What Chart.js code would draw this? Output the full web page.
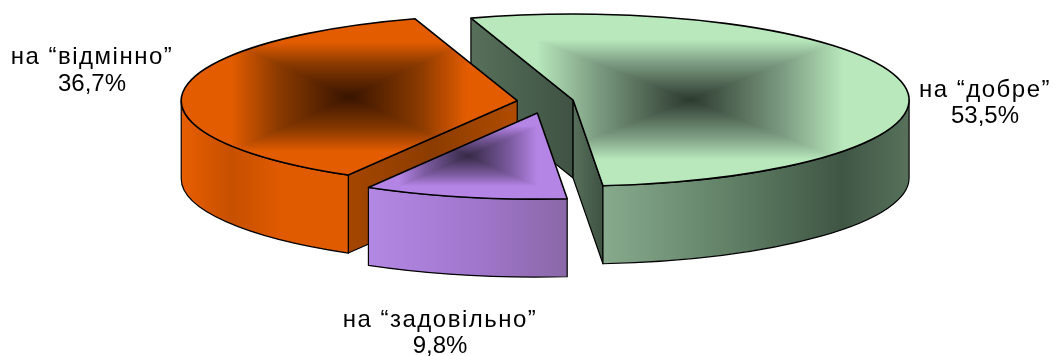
<!DOCTYPE html>
<html lang="en">
<head>
    <meta charset="UTF-8">
    <title>Pie</title>
    <script src="https://cdn.jsdelivr.net/npm/chart.js"></script>
    <style>
        html, body { margin: 0; padding: 0; background: #fff; overflow: hidden; }
        #box { position: relative; width: 1056px; height: 356px; }
    </style>
</head>
<body>
    <div id="box"><canvas id="pieChart"></canvas></div>

    <script>
        // data, clockwise from the back left edge
        const categories = ['на “добре”', 'на “задовільно”', 'на “відмінно”'];
        const values = [53.5, 9.8, 36.7];
        const valueLabels = ['53,5%', '9,8%', '36,7%'];

        // look of each slice
        const topColors = ['#b8e8bc', '#b585e6', '#e35c00'];
        const coreColors = ['#2c3a2e', '#352945', '#371400'];
        const midColors = ['#7b9a80', '#7a5a9e', '#8a3a00'];
        const rimStops = [
            [[0, '#87aa8d'], [0.35, '#67876c'], [0.78, '#3f5644'], [1, '#57715b']],
            [[0, '#b388e4'], [0.55, '#a076cc'], [1, '#8a68a6']],
            [[0, '#e85e00'], [0.3, '#c65000'], [0.6, '#e05a00'], [1, '#e05a00']]
        ];
        const sideStops = [
            [[0, '#57705b'], [1, '#3f5243']],
            [[0, '#a076cc'], [1, '#8a68a6']],
            [[0, '#a44600'], [0.5, '#8c3c00'], [1, '#b04c00']]
        ];
        const explode = [36.7, 194, 194];
        const nudgeX = [0, 2, 0];
        const drawOrder = [0, 2, 1];    // back to front

        // where the flattened pie sits on the page
        const CX = 545.4, CY = 101.5, RX = 336, RY = 86, DEPTH = 78;
        const labelPos = [[985, 90, 116], [440, 320, 346], [92, 57, 84]];

        function linear(ctx, x0, y0, x1, y1, stops) {
            const g = ctx.createLinearGradient(x0, y0, x1, y1);
            stops.forEach(s => g.addColorStop(s[0], s[1]));
            return g;
        }

        // Chart.js grows an offset arc by offset/4 and only shifts it by part of that
        function sliceGeometry(el, i) {
            const off = el.options.offset / 4;
            const sweep = el.endAngle - el.startAngle;
            const shift = off * (1 - Math.sin(Math.min(Math.PI, sweep)));
            const radius = el.outerRadius + off;
            const mid = (el.startAngle + el.endAngle) / 2;
            const sx = RX / radius, sy = RY / radius;
            const x = CX + nudgeX[i] + Math.cos(mid) * shift * sx;
            const y = CY + Math.sin(mid) * shift * sy;
            const rim = a => [x + Math.cos(a) * RX, y + Math.sin(a) * RY];
            return { x, y, sx, sy, rim, start: el.startAngle, end: el.endAngle };
        }

        function wallEdge(ctx, s, angle, stops) {
            const p = s.rim(angle);
            ctx.beginPath();
            ctx.moveTo(s.x, s.y);
            ctx.lineTo(p[0], p[1]);
            ctx.lineTo(p[0], p[1] + DEPTH);
            ctx.lineTo(s.x, s.y + DEPTH);
            ctx.closePath();
            ctx.fillStyle = p[0] < s.x ? linear(ctx, p[0], 0, s.x, 0, stops)
                                       : linear(ctx, s.x, 0, p[0], 0, stops);
            ctx.fill();
            ctx.stroke();
        }

        function rimWall(ctx, s, stops) {
            // the part of the rim that faces the viewer
            let a0 = s.start, a1 = s.end;
            if (a0 < 0 && a1 > 0) a0 = 0;
            if (a0 < Math.PI && a1 > Math.PI) a1 = Math.PI;
            if (a0 >= a1) return;
            const p0 = s.rim(a0), p1 = s.rim(a1);
            ctx.beginPath();
            ctx.ellipse(s.x, s.y, RX, RY, 0, a0, a1);
            ctx.lineTo(p1[0], p1[1] + DEPTH);
            ctx.ellipse(s.x, s.y + DEPTH, RX, RY, 0, a1, a0, true);
            ctx.closePath();
            const left = Math.min(p0[0], p1[0]), right = Math.max(p0[0], p1[0]);
            ctx.fillStyle = linear(ctx, left, 0, right, 0, stops);
            ctx.fill();
            ctx.stroke();
        }

        function topPath(ctx, s) {
            ctx.beginPath();
            ctx.moveTo(s.x, s.y);
            ctx.ellipse(s.x, s.y, RX, RY, 0, s.start, s.end);
            ctx.closePath();
        }

        function sliceBox(s) {
            const pts = [[s.x, s.y], s.rim(s.start), s.rim(s.end)];
            for (let k = -2; k <= 6; k++) {
                const a = k * Math.PI / 2;
                if (a > s.start && a < s.end) pts.push(s.rim(a));
            }
            const xs = pts.map(p => p[0]), ys = pts.map(p => p[1]);
            return { l: Math.min(...xs), r: Math.max(...xs), t: Math.min(...ys), b: Math.max(...ys) };
        }

        // rectangular "from centre" shading, one triangle per side of the box
        function shadeTop(ctx, s, i) {
            const b = sliceBox(s);
            const mx = (b.l + b.r) / 2, my = (b.t + b.b) / 2;
            const stops = [[0, coreColors[i]], [0.42, midColors[i]], [0.7, topColors[i]], [1, topColors[i]]];
            const sides = [
                [[b.l, b.t], [b.r, b.t], mx, b.t],
                [[b.r, b.t], [b.r, b.b], b.r, my],
                [[b.r, b.b], [b.l, b.b], mx, b.b],
                [[b.l, b.b], [b.l, b.t], b.l, my]
            ];
            ctx.save();
            topPath(ctx, s);
            ctx.clip();
            sides.forEach(t => {
                const g = linear(ctx, mx, my, t[2], t[3], stops);
                ctx.beginPath();
                ctx.moveTo(mx, my);
                ctx.lineTo(t[0][0], t[0][1]);
                ctx.lineTo(t[1][0], t[1][1]);
                ctx.closePath();
                ctx.fillStyle = g;
                ctx.strokeStyle = g;
                ctx.lineWidth = 1;
                ctx.fill();
                ctx.stroke();
            });
            ctx.restore();
        }

        const pie3d = {
            id: 'pie3d',
            beforeDatasetDraw(chart) {
                const ctx = chart.ctx;
                const arcs = chart.getDatasetMeta(0).data;
                drawOrder.forEach(i => {
                    const el = arcs[i];
                    const s = sliceGeometry(el, i);

                    ctx.save();
                    ctx.strokeStyle = '#000';
                    ctx.lineWidth = 1.2;
                    ctx.lineJoin = 'round';
                    if (Math.cos(s.start) < 0) wallEdge(ctx, s, s.start, sideStops[i]);
                    if (Math.cos(s.end) > 0) wallEdge(ctx, s, s.end, sideStops[i]);
                    rimWall(ctx, s, rimStops[i]);
                    ctx.restore();

                    // flat top, squashed from the chart's own arc
                    ctx.save();
                    ctx.translate(CX + nudgeX[i], CY);
                    ctx.scale(s.sx, s.sy);
                    ctx.translate(-el.x, -el.y);
                    el.draw(ctx);
                    ctx.restore();

                    shadeTop(ctx, s, i);

                    ctx.save();
                    ctx.strokeStyle = '#000';
                    ctx.lineWidth = 1.6;
                    ctx.lineJoin = 'round';
                    topPath(ctx, s);
                    ctx.stroke();
                    ctx.restore();
                });
                return false;
            },
            afterDraw(chart) {
                const ctx = chart.ctx;
                ctx.save();
                ctx.fillStyle = '#000';
                ctx.font = '24px "Liberation Sans"';
                ctx.textAlign = 'center';
                ctx.textBaseline = 'middle';
                categories.forEach((c, i) => {
                    ctx.letterSpacing = '1.5px';
                    ctx.fillText(c, labelPos[i][0], labelPos[i][1]);
                    ctx.letterSpacing = '0px';
                    ctx.fillText(valueLabels[i], labelPos[i][0], labelPos[i][2]);
                });
                ctx.restore();
            }
        };

        new Chart(document.getElementById('pieChart'), {
            type: 'pie',
            data: {
                labels: categories,
                datasets: [{
                    data: values,
                    backgroundColor: topColors,
                    borderWidth: 0,
                    offset: explode
                }]
            },
            options: {
                responsive: true,
                maintainAspectRatio: false,
                animation: false,
                rotation: -17.7,
                radius: 100,
                plugins: { legend: { display: false }, tooltip: { enabled: false } }
            },
            plugins: [pie3d]
        });
    </script>
</body>
</html>
